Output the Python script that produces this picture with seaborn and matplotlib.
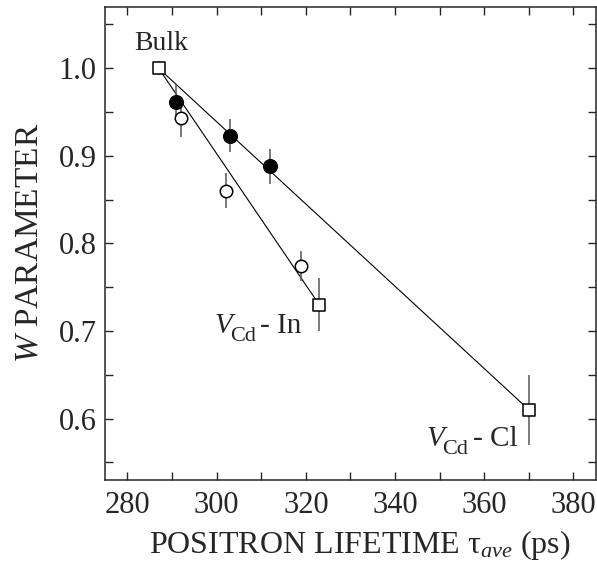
#!/usr/bin/env python3

import pandas as pd
import seaborn as sns
from matplotlib import pyplot as plt
from matplotlib.ticker import MultipleLocator

# Data
sq_lifetime = [287, 323, 370]
sq_w = [1.000, 0.730, 0.610]
sq_err = [0.008, 0.030, 0.040]

filled_lifetime = [291, 303, 312]
filled_w = [0.961, 0.923, 0.888]
filled_err = [0.021, 0.019, 0.020]

open_lifetime = [292, 302, 319]
open_w = [0.943, 0.860, 0.774]
open_err = [0.021, 0.020, 0.017]

# Lines from bulk to each defect state
line_in_x = [sq_lifetime[0], sq_lifetime[1]]
line_in_y = [sq_w[0], sq_w[1]]
line_cl_x = [sq_lifetime[0], sq_lifetime[2]]
line_cl_y = [sq_w[0], sq_w[2]]

sns.set_style("ticks")
plt.rcParams["font.family"] = ["Liberation Serif", "DejaVu Serif"]
plt.rcParams["mathtext.fontset"] = "custom"
plt.rcParams["mathtext.rm"] = "Liberation Serif"
plt.rcParams["mathtext.it"] = "Liberation Serif:italic"

fig, ax = plt.subplots(figsize=(5.97, 5.76), dpi=100)
fig.subplots_adjust(left=0.176, right=0.998, bottom=0.167, top=0.988)

# Lines
sns.lineplot(x=line_in_x, y=line_in_y, color="black", lw=0.8, ax=ax, zorder=1)
sns.lineplot(x=line_cl_x, y=line_cl_y, color="black", lw=0.8, ax=ax, zorder=1)

# Error bars
for xs, ys, es in [
    (sq_lifetime, sq_w, sq_err),
    (filled_lifetime, filled_w, filled_err),
    (open_lifetime, open_w, open_err),
]:
    ax.errorbar(xs, ys, yerr=es, fmt="none", ecolor="#555555", elinewidth=1.1,
                capsize=0, zorder=2)

# Markers
sq_df = pd.DataFrame({"x": sq_lifetime, "y": sq_w})
filled_df = pd.DataFrame({"x": filled_lifetime, "y": filled_w})
open_df = pd.DataFrame({"x": open_lifetime, "y": open_w})

sns.scatterplot(data=sq_df, x="x", y="y", marker="s", s=80, color="white",
                edgecolor="black", linewidth=1.1, ax=ax, zorder=3)
sns.scatterplot(data=filled_df, x="x", y="y", marker="o", s=95, color="black",
                edgecolor="black", linewidth=1.1, ax=ax, zorder=3)
sns.scatterplot(data=open_df, x="x", y="y", marker="o", s=80, color="white",
                edgecolor="black", linewidth=1.1, ax=ax, zorder=3)

# Annotations (V italic, subscript Cd)
ax.text(281.6, 1.021, "Bulk", fontsize=20, ha="left", va="baseline")
for x0, y0, tail in [(299.5, 0.698, "- In"), (347.1, 0.569, "- Cl")]:
    ax.annotate("V", (x0, y0), fontsize=21, style="italic", ha="left", va="baseline")
    ax.annotate("Cd", (x0, y0), xytext=(11, -6), textcoords="offset points",
                fontsize=16, ha="left", va="baseline")
    ax.annotate(tail, (x0, y0), xytext=(33, 0), textcoords="offset points",
                fontsize=21, ha="left", va="baseline")

# Axes formatting
ax.set_xlim(275, 385)
ax.set_ylim(0.53, 1.07)
ax.xaxis.set_major_locator(MultipleLocator(20))
ax.xaxis.set_minor_locator(MultipleLocator(10))
ax.yaxis.set_major_locator(MultipleLocator(0.1))
ax.yaxis.set_minor_locator(MultipleLocator(0.05))
ax.yaxis.set_major_formatter(plt.FormatStrFormatter("%.1f"))
ax.tick_params(which="both", direction="in", top=True, right=True,
               length=5.5, width=1.0, labelsize=22)
ax.tick_params(axis="x", pad=8)
ax.tick_params(axis="y", pad=6)
for s in ax.spines.values():
    s.set_linewidth(1.1)

ax.set_xlabel(r"POSITRON LIFETIME $\mathrm{\tau}_{ave}$ (ps)", fontsize=23, labelpad=6)
ax.xaxis.label.set_x(0.518)
ax.set_ylabel(r"$W$ PARAMETER", fontsize=24, labelpad=10)

fig.savefig("out.png", dpi=100)
plt.close()
